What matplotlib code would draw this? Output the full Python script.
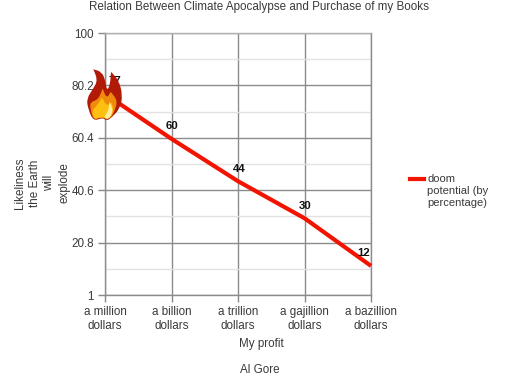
"""Doom vs profit line chart, flame drawn over the first point."""
import matplotlib
matplotlib.use("Agg")
import matplotlib.pyplot as plt
from matplotlib.lines import Line2D
from matplotlib.patches import PathPatch
from matplotlib.path import Path
from matplotlib.transforms import Affine2D

plt.rcParams["font.family"] = ["Liberation Sans", "DejaVu Sans"]
plt.rcParams["font.size"] = 8.4

profit = ["a million\ndollars", "a billion\ndollars", "a trillion\ndollars",
          "a gajillion\ndollars", "a bazillion\ndollars"]
doom = [77, 60, 44, 30, 12]
y_major = [1, 20.8, 40.6, 60.4, 80.2, 100]
y_major_labels = ["1", "20.8", "40.6", "60.4", "80.2", "100"]
y_minor = [10.9, 30.7, 50.5, 70.3, 90.1]

W, H = 515, 383
LEFT, RIGHT, TOP, BOTTOM = 105, 371, 33, 295
TEXT = "#3a3a3a"

# flame outlines, traced at 3x around the first point (y down), repeated vertices make tips
flame_outer = [(100, 147), (100, 147), (125, 155), (136, 180), (140, 212), (150, 195), (153, 155), (153, 155),
               (176, 180), (188, 225), (180, 265), (155, 292), (140, 302), (128, 292), (100, 303),
               (84, 265), (80, 235), (100, 205), (113, 180)]
flame_mid = [(128, 205), (128, 205), (140, 235), (152, 215), (152, 215), (172, 240), (166, 268), (150, 298),
             (125, 290), (100, 300), (90, 262), (92, 245), (115, 238)]
flame_inner = [(126, 232), (126, 232), (140, 258), (154, 246), (154, 246), (162, 272), (146, 300),
               (125, 288), (102, 300), (96, 270), (112, 255)]
flame_core = [(148, 245), (148, 245), (160, 270), (146, 298), (130, 292), (146, 272)]
flame_layers = [(flame_outer, "#b01a06"), (flame_mid, "#f08a0c"),
                (flame_inner, "#fdc010"), (flame_core, "#fdf0a0")]


def smooth_path(pts):
    # quadratic curves through the midpoints of a closed outline
    mids = [((a[0] + b[0]) / 2, (a[1] + b[1]) / 2) for a, b in zip(pts, pts[1:] + pts[:1])]
    verts = [mids[-1]]
    codes = [Path.MOVETO]
    for p, m in zip(pts, mids):
        verts += [p, m]
        codes += [Path.CURVE3, Path.CURVE3]
    return Path(verts, codes)


fig = plt.figure(figsize=(W / 100, H / 100), dpi=100)
ax = fig.add_axes([LEFT / W, 1 - BOTTOM / H, (RIGHT - LEFT) / W, (BOTTOM - TOP) / H])

x = list(range(len(profit)))
ax.set_xlim(0, len(profit) - 1)
ax.set_ylim(1, 100)

ax.set_yticks(y_major)
ax.set_yticklabels(y_major_labels, color=TEXT)
ax.set_yticks(y_minor, minor=True)
ax.set_xticks(x)
ax.set_xticklabels(profit, color=TEXT, linespacing=1.2)
ax.tick_params(axis="both", which="major", length=5, width=1, color="#888888", pad=3)
ax.tick_params(axis="y", which="minor", length=0)
ax.grid(which="major", color="#8c8c8c", linewidth=1)
ax.grid(which="minor", axis="y", color="#e2e2e2", linewidth=1)
ax.set_axisbelow(True)
for side in ax.spines.values():
    side.set_color("#8c8c8c")
    side.set_linewidth(1)
ax.spines["top"].set_color("#b0b0b0")

ax.plot(x, doom, color="#f21400", linewidth=3, solid_capstyle="butt", clip_on=False, zorder=3)
for xi, val in zip(x, doom):
    off = -5.5 if xi == x[-1] else (7 if xi == 0 else 0.7)
    ax.annotate(str(val), (xi, val), xytext=(off, 5.5), textcoords="offset points",
                ha="center", va="bottom", fontsize=8.2, fontweight="bold", color="#111111", zorder=4)

# flame sits on the first point
px, py = ax.transData.transform((x[0], doom[0]))
to_px = Affine2D().translate(-135, -221).scale(1 / 3, -1 / 3).translate(px, py)
for outline, colour in flame_layers:
    patch = PathPatch(smooth_path(outline), facecolor=colour, edgecolor="none",
                      transform=to_px, clip_on=False, zorder=5)
    ax.add_patch(patch)

fig.text(259 / W, 1 - 7 / H, "Relation Between Climate Apocalypse and Purchase of my Books",
         ha="center", va="center", color=TEXT)
fig.text(261 / W, 1 - 344 / H, "My profit", ha="center", va="center", color=TEXT)
fig.text(260 / W, 1 - 370 / H, "Al Gore", ha="center", va="center", color=TEXT)
fig.text(42 / W, 1 - 183 / H, "Likeliness\nthe Earth\nwill\nexplode", rotation=90,
         ha="center", va="center", multialignment="center", linespacing=1.3, color=TEXT)

fig.add_artist(Line2D([410 / W, 424 / W], [1 - 179 / H] * 2, color="#f21400", linewidth=3,
                      transform=fig.transFigure))
fig.text(427 / W, 1 - 191 / H, "doom\npotential (by\npercentage)", ha="left", va="center",
         fontsize=8, linespacing=1.2, color=TEXT)

fig.savefig("out.png", dpi=100)
